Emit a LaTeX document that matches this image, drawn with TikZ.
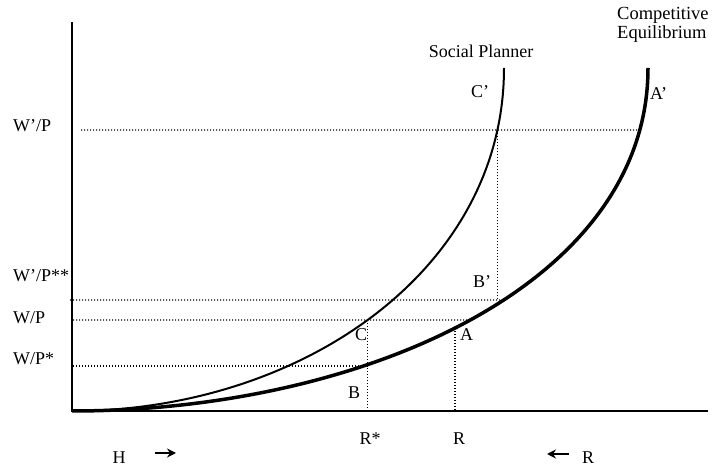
\documentclass[tikz,border=0pt]{standalone}
\usepackage{fontspec}
\setmainfont{Liberation Serif}
\usetikzlibrary{intersections,arrows.meta}
\begin{document}
\begin{tikzpicture}[x=1pt,y=1pt,
  lbl/.style={font=\fontsize{18}{20}\selectfont, inner sep=0pt, anchor=base},
  lblw/.style={lbl, anchor=base west},
  biglbl/.style={font=\fontsize{18.5}{20}\selectfont, inner sep=0pt, anchor=base west},
  guide/.style={line width=1.2pt, dash pattern=on 1.2pt off 1.8pt},
  axisline/.style={line width=1.5pt},
  spcurve/.style={line width=2pt},
  cecurve/.style={line width=3.5pt},
  dirarrow/.style={-{Stealth[length=9pt,width=9pt]}, line width=1.4pt}]
\useasboundingbox (0,0) rectangle (728,471);
% axes
\coordinate (O) at (72,60);
\coordinate (Ytop) at (72,449);
\coordinate (Xend) at (708,60);
\draw[axisline] (Ytop) -- (O) -- (Xend);
% curves
\coordinate (SPtop) at (504,403);
\coordinate (CEtop) at (648,403);
\draw[spcurve, name path=sp] (O) .. controls (300,60) and (504,200) .. (SPtop);
\draw[cecurve, name path=ce] (O) .. controls (360,60) and (648,185) .. (CEtop);
% helper paths
\path[name path=hWp] (60,341) -- (710,341);
\path[name path=hWpss] (60,171) -- (710,171);
\path[name path=hW] (60,151) -- (710,151);
\path[name path=vR] (455,50) -- (455,300);
\path[name intersections={of=sp and hWp, by=Cp}];
\path[name intersections={of=ce and hWp, by=Ap}];
\path[name intersections={of=ce and hWpss, by=Bp}];
\path[name intersections={of=sp and hW, by=C}];
\path[name intersections={of=ce and hW, by=A}];
\path[name intersections={of=ce and vR, by=RA}];
\coordinate (WpL) at (81,341);
\coordinate (WpssL) at (70,171);
\coordinate (WL) at (73,151);
\coordinate (WsL) at (73,105);
\coordinate (Bpt) at (C |- WsL);
% dotted guides
\draw[guide] (WpL) -- (Ap);
\draw[guide] (Cp) -- (Cp |- Bp);
\draw[guide] (WpssL) -- (Bp);
\draw[guide] (WL) -- (A);
\draw[guide] (WsL) -- (Bpt);
\draw[guide] (C) -- (C |- O);
\draw[guide] (RA) -- (RA |- O);
% axis labels
\node[lblw] (lWp) at (13,339) {W’/P};
\node[lblw] (lWpss) at (13,189) {W’/P**};
\node[lblw] (lW) at (13,147) {W/P};
\node[lblw] (lWs) at (13,106) {W/P*};
\node[lbl] (lRs) at (370,26) {R*};
\node[lbl] (lR) at (459,26) {R};
% curve labels
\node[lbl] (lSP) at (481,413) {Social Planner};
\node[biglbl] (lComp) at (617,451) {Competitive};
\node[biglbl] (lEq) at (617,432) {Equilibrium};
% point labels
\node[lblw] (lCp) at (471,373) {C’};
\node[lblw] (lAp) at (650,371) {A’};
\node[lblw] (lBp) at (473,183) {B’};
\node[lblw] (lC) at (355,130) {C};
\node[lblw] (lA) at (460,130) {A};
\node[lblw] (lB) at (348,72) {B};
% direction labels
\node[lbl] (lH) at (119,7) {H};
\coordinate (hA1) at (155,18);
\coordinate (hA2) at (176,18);
\draw[dirarrow] (hA1) -- (hA2);
\coordinate (rA1) at (569,17);
\coordinate (rA2) at (547,17);
\draw[dirarrow] (rA1) -- (rA2);
\node[lblw] (lR2) at (582,7) {R};
\end{tikzpicture}
\end{document}
